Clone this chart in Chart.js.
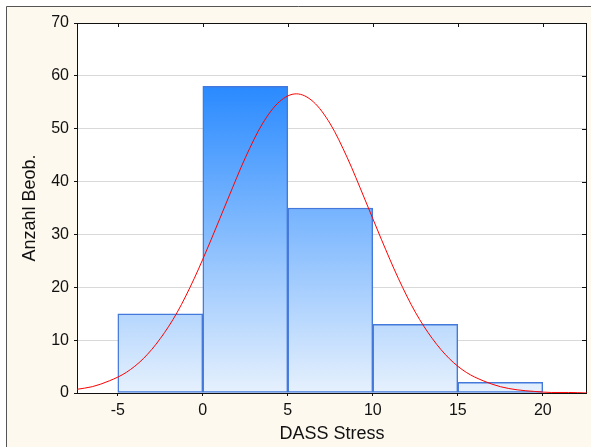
<!DOCTYPE html>
<html>
<head>
<meta charset="utf-8">
<script src="https://cdn.jsdelivr.net/npm/chart.js@4/dist/chart.umd.min.js"></script>
<style>
  html, body { margin: 0; padding: 0; background: #ffffff; }
  #wrap { width: 591px; height: 447px; position: relative; }
</style>
</head>
<body>
<div id="wrap"><canvas id="c" width="591" height="447"></canvas></div>
<script>
// Histogram classes (lower edges) and observed counts
const binStarts = [-5, 0, 5, 10, 15];
const binWidth = 5;
const counts = [15, 58, 35, 13, 2];

// Fitted normal curve, sampled along the axis
const curveX = [-7.4, -6.5, -5.5, -4.5, -3.5, -2.5, -1.5, -0.5, 0.5, 1.5, 2.5, 3.5, 4.5, 5.5,
  6.5, 7.5, 8.5, 9.5, 10.5, 11.5, 12.5, 13.5, 14.5, 15.5, 16.5, 17.5, 18.5, 19.5, 20.5, 21.5, 22.6];
const curveY = [0.7, 1.2, 2.3, 3.9, 6.5, 10.3, 15.3, 21.7, 29.1, 36.9, 44.5, 50.9, 55.1, 56.6,
  55.1, 50.9, 44.5, 36.9, 29.1, 21.7, 15.3, 10.3, 6.5, 3.9, 2.3, 1.2, 0.6, 0.3, 0.1, 0.1, 0.0];

// Axis ticks
const xTicks = [-5, 0, 5, 10, 15, 20];
const yTicks = [0, 10, 20, 30, 40, 50, 60, 70];
const xRange = [-7.4, 22.6];

const xTitle = 'DASS Stress';
const yTitle = 'Anzahl Beob.';

Chart.defaults.font.family = "'Liberation Sans', Arial, sans-serif";
Chart.defaults.color = '#111111';

function barGradient(ctx) {
  const chart = ctx.chart;
  const y = chart.scales.y;
  if (!chart.chartArea || !y) return '#8cc4ff';
  const top = y.getPixelForValue(Math.max(...counts));
  const bottom = y.getPixelForValue(0);
  const g = chart.ctx.createLinearGradient(0, top, 0, bottom);
  g.addColorStop(0, '#2a8aff');
  g.addColorStop(1, '#e6f1fd');
  return g;
}

const framePlugin = {
  id: 'frame',
  beforeDraw(chart) {
    const c = chart.ctx;
    const a = chart.chartArea;
    c.save();
    c.fillStyle = '#ffffff';
    c.fillRect(0, 0, chart.width, chart.height);
    c.fillStyle = '#fdf9ee';
    c.fillRect(6, 6, chart.width - 6, chart.height - 6);
    c.strokeStyle = '#555555';
    c.lineWidth = 1;
    c.beginPath();
    c.moveTo(6.5, chart.height);
    c.lineTo(6.5, 6.5);
    c.lineTo(chart.width, 6.5);
    c.stroke();
    c.fillStyle = '#ffffff';
    c.fillRect(a.left, a.top, a.right - a.left, a.bottom - a.top);
    c.restore();
  },
  beforeDatasetsDraw(chart) {
    const c = chart.ctx;
    const a = chart.chartArea;
    const xs = chart.scales.x;
    const ys = chart.scales.y;
    c.save();
    c.strokeStyle = '#111111';
    c.lineWidth = 1;
    c.strokeRect(Math.round(a.left) + 0.5, Math.round(a.top) + 0.5,
      Math.round(a.right - a.left) - 1, Math.round(a.bottom - a.top));
    // inward ticks on the top and right edges
    c.beginPath();
    xTicks.forEach(v => {
      const px = Math.round(xs.getPixelForValue(v)) + 0.5;
      c.moveTo(px, a.top);
      c.lineTo(px, a.top + 4);
    });
    yTicks.forEach(v => {
      const py = Math.round(ys.getPixelForValue(v)) + 0.5;
      c.moveTo(a.right - 1, py);
      c.lineTo(a.right - 5, py);
    });
    c.stroke();
    c.restore();
  }
};

new Chart(document.getElementById('c'), {
  type: 'bar',
  data: {
    datasets: [
      {
        type: 'line',
        data: curveX.map((x, i) => ({ x: x, y: curveY[i] })),
        borderColor: '#ff0000',
        borderWidth: 1,
        pointRadius: 0,
        tension: 0.4,
        cubicInterpolationMode: 'monotone',
        fill: false,
        order: 0
      },
      {
        type: 'bar',
        data: binStarts.map((s, i) => ({ x: s + binWidth / 2, y: counts[i] })),
        backgroundColor: barGradient,
        borderColor: '#4479dc',
        borderWidth: 1.5,
        borderSkipped: false,
        barPercentage: 1,
        categoryPercentage: 1,
        order: 1
      }
    ]
  },
  options: {
    responsive: false,
    animation: false,
    layout: { padding: { top: 23, right: 4, left: 0, bottom: 0 } },
    plugins: { legend: { display: false }, tooltip: { enabled: false } },
    scales: {
      x: {
        type: 'linear',
        min: xRange[0],
        max: xRange[1],
        offset: false,
        afterBuildTicks(scale) { scale.ticks = xTicks.map(v => ({ value: v })); },
        afterFit(scale) { scale.height = 54; },
        grid: { display: true, drawOnChartArea: false, offset: false, tickLength: 3, tickColor: '#111111' },
        border: { display: false },
        ticks: { font: { size: 16 }, padding: 5, maxRotation: 0, autoSkip: false },
        title: { display: true, text: xTitle, font: { size: 18 }, padding: { top: 0, bottom: 2 } }
      },
      y: {
        min: 0,
        max: 70,
        afterBuildTicks(scale) { scale.ticks = yTicks.map(v => ({ value: v })); },
        afterFit(scale) { scale.width = 77; },
        grid: { color: '#d9d9d9', lineWidth: 1, tickLength: 3, tickColor: '#111111' },
        border: { display: false },
        ticks: { font: { size: 16 }, padding: 5 },
        title: { display: true, text: yTitle, font: { size: 18 }, padding: { top: 19, bottom: 0 } }
      }
    }
  },
  plugins: [framePlugin]
});
</script>
</body>
</html>
